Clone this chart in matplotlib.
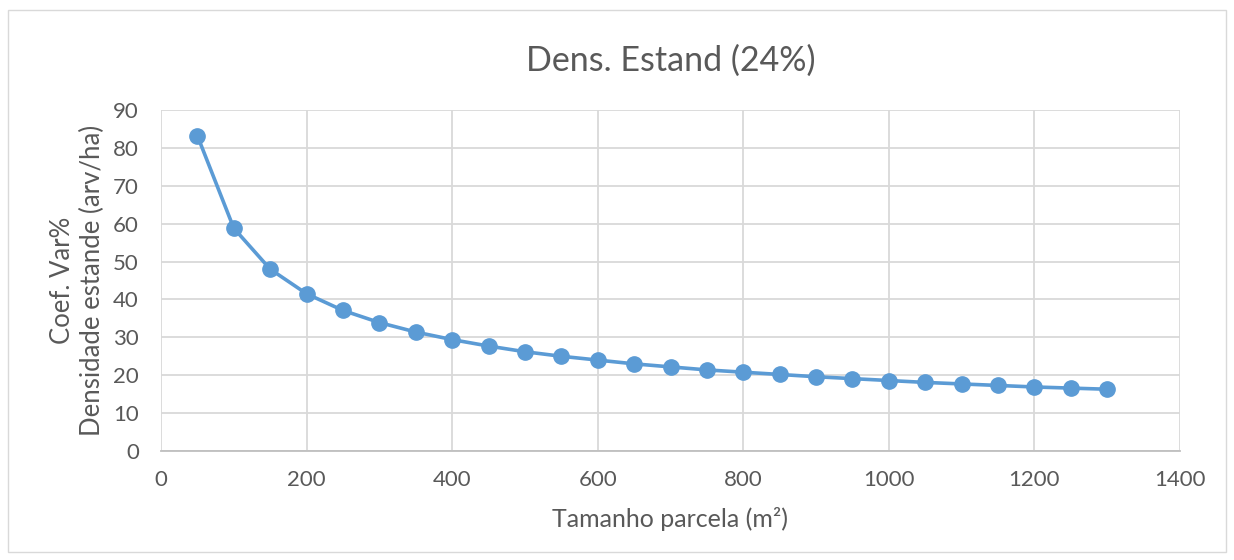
import numpy as np
import matplotlib.pyplot as plt
from matplotlib.patches import Rectangle

# Dados
tamanho = [50, 100, 150, 200, 250, 300, 350, 400, 450, 500, 550, 600, 650,
           700, 750, 800, 850, 900, 950, 1000, 1050, 1100, 1150, 1200, 1250, 1300]
coef_var = [83.2, 58.8, 48.0, 41.5, 37.1, 33.9, 31.4, 29.4, 27.7, 26.2, 25.0, 24.0, 23.0,
            22.2, 21.4, 20.8, 20.2, 19.6, 19.1, 18.6, 18.1, 17.7, 17.3, 16.9, 16.6, 16.3]

plt.rcParams['font.family'] = ['Lato', 'DejaVu Sans']
cinza = '#595959'
azul = '#5B9BD5'

fig = plt.figure(figsize=(12.34, 5.6), dpi=100)
ax = fig.add_axes([161 / 1234, 1 - 451 / 560, (1180 - 161) / 1234, (451 - 110) / 560])

ax.plot(tamanho, coef_var, color=azul, linewidth=2.6, marker='o', markersize=11,
        markerfacecolor=azul, markeredgecolor=azul)

ax.set_xlim(0, 1400)
ax.set_ylim(0, 90)
ax.set_xticks(np.arange(0, 1401, 200))
ax.set_yticks(np.arange(0, 91, 10))
ax.grid(True, color='#D9D9D9', linewidth=1.3)
ax.set_axisbelow(True)
for s in ['top', 'right', 'left']:
    ax.spines[s].set_visible(False)
ax.spines['bottom'].set_color('#BFBFBF')
ax.spines['bottom'].set_linewidth(1.3)
ax.tick_params(length=0, labelsize=16, colors=cinza)
ax.tick_params(axis='x', pad=14)
ax.tick_params(axis='y', pad=16)

ax.set_title('Dens. Estand (24%)', fontsize=24.5, color=cinza, pad=28)
ax.set_xlabel('Tamanho parcela (m²)', fontsize=18, color=cinza, labelpad=12)
ax.set_ylabel('Coef. Var%\nDensidade estande (arv/ha)', fontsize=18.5, color=cinza, labelpad=6)

# borda do gráfico
fig.patches.append(Rectangle((8 / 1234, 8 / 560), 1218 / 1234, 542 / 560,
                             transform=fig.transFigure, fill=False,
                             edgecolor='#D9D9D9', linewidth=1))

fig.savefig('out.png', dpi=100)
